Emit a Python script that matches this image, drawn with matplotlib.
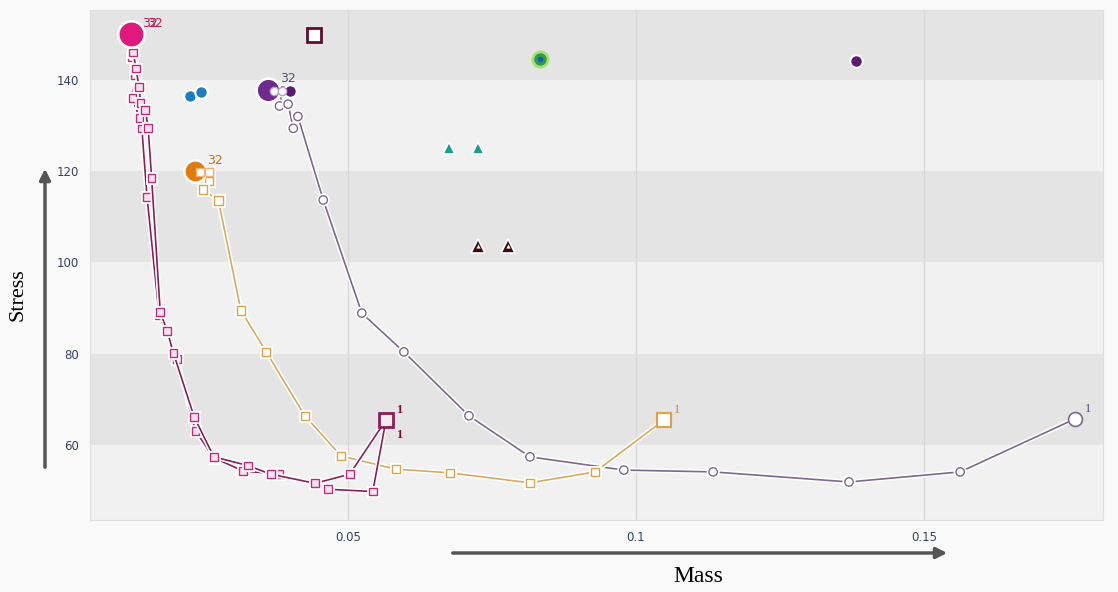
import matplotlib.pyplot as plt
import matplotlib.patheffects as pe

# magenta run A (iteration 32 -> 1)
magA_mass = [0.0123, 0.0127, 0.0132, 0.0137, 0.0140, 0.0148, 0.0153, 0.0159, 0.0174,
             0.0186, 0.0197, 0.0233, 0.0267, 0.0326, 0.0366, 0.0443, 0.0503, 0.0566]
magA_stress = [150.0, 146.0, 142.5, 138.5, 135.0, 133.4, 129.5, 118.5, 89.1,
               85.0, 80.1, 66.1, 57.4, 55.5, 53.6, 51.6, 53.6, 65.5]
# magenta run B
magB_mass = [0.0123, 0.0125, 0.0130, 0.0126, 0.0138, 0.0142, 0.0151, 0.0172,
             0.0203, 0.0235, 0.0267, 0.0318, 0.0381, 0.0465, 0.0543, 0.0566]
magB_stress = [150.0, 145.0, 141.0, 136.0, 131.6, 129.4, 114.4, 88.5,
               78.9, 63.1, 57.2, 54.3, 53.6, 50.3, 49.8, 65.5]
# orange run
org_mass = [0.0234, 0.0243, 0.0259, 0.0259, 0.0248, 0.0275, 0.0314, 0.0358,
            0.0425, 0.0488, 0.0583, 0.0677, 0.0816, 0.0929, 0.1049]
org_stress = [120.0, 119.8, 119.8, 117.8, 116.0, 113.6, 89.5, 80.4,
              66.4, 57.6, 54.7, 53.9, 51.7, 54.1, 65.5]
# purple run
pur_mass = [0.0361, 0.0372, 0.0386, 0.0381, 0.0396, 0.0405, 0.0413, 0.0457, 0.0524,
            0.0597, 0.0710, 0.0816, 0.0979, 0.1134, 0.1370, 0.1563, 0.1762]
pur_stress = [137.8, 137.6, 137.6, 134.3, 134.7, 129.4, 132.0, 113.7, 88.9,
              80.4, 66.4, 57.4, 54.5, 54.1, 51.9, 54.1, 65.7]

# single designs
blue_mass = [0.0226, 0.0245]
blue_stress = [136.6, 137.4]
dkpur_mass = [0.0399, 0.1382]
dkpur_stress = [137.6, 144.2]
sq_mass = [0.0441]
sq_stress = [149.9]
green_mass = [0.0833]
green_stress = [144.5]
teal_mass = [0.0675, 0.0726]
teal_stress = [125.1, 125.1]
brown_mass = [0.0726, 0.0778]
brown_stress = [103.6, 103.6]

xticks = [0.05, 0.1, 0.15]
xtick_labels = ['0.05', '0.1', '0.15']
yticks = [60, 80, 100, 120, 140]

fig = plt.figure(figsize=(11.18, 5.92), dpi=100, facecolor='#f9f9f9')
ax = fig.add_axes([90/1118, 1-520/592, 1013/1118, 510/592])
ax.set_facecolor('#f1f1f1')
for lo in [140, 100, 60]:
    ax.axhspan(lo, lo+20, color='#e4e4e4', zorder=0, lw=0)
for xv in xticks:
    ax.axvline(xv, color='#d8d8d8', lw=1, zorder=1)

halo = [pe.withStroke(linewidth=3.5, foreground='white')]

# lines
ax.plot(pur_mass, pur_stress, color='#7d6690', lw=1.2, zorder=3, path_effects=halo,
        marker='o', ms=6, mfc='white', mec='#7d6690', mew=1)
ax.plot(org_mass, org_stress, color='#d9a860', lw=1.2, zorder=3, path_effects=halo,
        marker='s', ms=6, mfc='white', mec='#e0a046', mew=1)
ax.plot(magB_mass, magB_stress, color='#8c1d55', lw=1.2, zorder=4, path_effects=halo,
        marker='s', ms=5.5, mfc='#fbe3ef', mec='#c2297a', mew=1)
ax.plot(magA_mass, magA_stress, color='#8c1d55', lw=1.2, zorder=4, path_effects=halo,
        marker='s', ms=5.5, mfc='#fbe3ef', mec='#c2297a', mew=1)

# end points (iteration 1)
ax.plot(magA_mass[-1], magA_stress[-1], 's', ms=10, mfc='#f4eaf0', mec='#8c1d55', mew=2, zorder=6)
ax.plot(org_mass[-1], org_stress[-1], 's', ms=10, mfc='white', mec='#e0a046', mew=1.5, zorder=6)
ax.plot(pur_mass[-1], pur_stress[-1], 'o', ms=10, mfc='white', mec='#7d6690', mew=1.2, zorder=6)

# start points (iteration 32)
ax.plot(magA_mass[0], magA_stress[0], 'o', ms=19, mfc='#e0197d', mec='white', mew=1.8, zorder=7)
ax.plot(org_mass[0], org_stress[0], 'o', ms=16, mfc='#e07b0c', mec='white', mew=1.8, zorder=7)
ax.plot(pur_mass[0], pur_stress[0], 'o', ms=17, mfc='#6e2a8c', mec='white', mew=1.8, zorder=7)
ax.plot(pur_mass[1:3], pur_stress[1:3], 'o', ms=6, mfc='white', mec='#b9a6c8', mew=1, zorder=8)
ax.plot(org_mass[1:3], org_stress[1:3], 's', ms=6, mfc='white', mec='#f0b070', mew=1, zorder=8)

# single designs
ax.plot(blue_mass, blue_stress, 'o', ms=9, mfc='#1b7ec2', mec='white', mew=1.5, ls='none', zorder=6)
ax.plot(dkpur_mass, dkpur_stress, 'o', ms=9, mfc='#5d1a72', mec='white', mew=1.5, ls='none', zorder=6)
ax.plot(sq_mass, sq_stress, 's', ms=10, mfc='white', mec='#5c0d30', mew=2, ls='none', zorder=6)
ax.plot(green_mass, green_stress, 'o', ms=11, mfc='#2e9a58', mec='#a6e36a', mew=2, ls='none', zorder=6)
ax.plot(green_mass, green_stress, 'o', ms=4, mfc='#1b5fa8', mec='none', ls='none', zorder=7)
ax.plot(teal_mass, teal_stress, '^', ms=9, mfc='#16a08a', mec='white', mew=1.2, ls='none', zorder=6)
ax.plot(brown_mass, brown_stress, '^', ms=10, mfc='#3d0c0a', mec='white', mew=1.2, ls='none', zorder=6)
ax.plot(brown_mass, brown_stress, '^', ms=3, mfc='white', mec='none', ls='none', zorder=7)

# iteration labels (the two magenta "32" overlap as in the source)
ax.annotate('32', (magA_mass[0], magA_stress[0]), xytext=(8, 5), textcoords='offset points',
            color='#c2185b', fontsize=9, zorder=9)
ax.annotate('32', (magB_mass[0], magB_stress[0]), xytext=(12, 5), textcoords='offset points',
            color='#c2185b', fontsize=9, zorder=9)
ax.annotate('32', (org_mass[0], org_stress[0]), xytext=(9, 5), textcoords='offset points',
            color='#c2701a', fontsize=9, zorder=9)
ax.annotate('32', (pur_mass[0], pur_stress[0]), xytext=(9, 6), textcoords='offset points',
            color='#5e4a78', fontsize=9, zorder=9)
ax.annotate('1', (magA_mass[-1], magA_stress[-1]), xytext=(7, 5), textcoords='offset points',
            color='#7a0c3c', fontsize=9, family='Liberation Serif', weight='bold')
ax.annotate('1', (magB_mass[-1], magB_stress[-1]), xytext=(7, -13), textcoords='offset points',
            color='#7a0c3c', fontsize=9, family='Liberation Serif', weight='bold')
ax.annotate('1', (org_mass[-1], org_stress[-1]), xytext=(7, 5), textcoords='offset points',
            color='#d08a2a', fontsize=9, family='Liberation Serif')
ax.annotate('1', (pur_mass[-1], pur_stress[-1]), xytext=(7, 5), textcoords='offset points',
            color='#5e4a78', fontsize=9, family='Liberation Serif')

ax.set_xlim(0.0052, 0.1811)
ax.set_ylim(43.56, 155.34)
ax.set_xticks(xticks)
ax.set_xticklabels(xtick_labels)
ax.set_yticks(yticks)
ax.tick_params(length=0, labelsize=8.5, labelcolor='#34415e', pad=8)
for s in ax.spines.values():
    s.set_color('#dedede')

# axis titles with arrows
fig.text(18/1118, 1-295/592, 'Stress', rotation=90, ha='center', va='center',
         family='Liberation Serif', fontsize=16)
fig.text(698/1118, 1-577/592, 'Mass', ha='center', va='center',
         family='Liberation Serif', fontsize=17)
fig.patches.append(plt.matplotlib.patches.FancyArrowPatch(
    (45/1118, 1-470/592), (45/1118, 1-166/592), transform=fig.transFigure,
    arrowstyle='-|>', mutation_scale=16, color='#555555', lw=2.5))
fig.patches.append(plt.matplotlib.patches.FancyArrowPatch(
    (450/1118, 1-553/592), (950/1118, 1-553/592), transform=fig.transFigure,
    arrowstyle='-|>', mutation_scale=16, color='#555555', lw=2.5))

fig.savefig('out.png', dpi=100, facecolor=fig.get_facecolor())
